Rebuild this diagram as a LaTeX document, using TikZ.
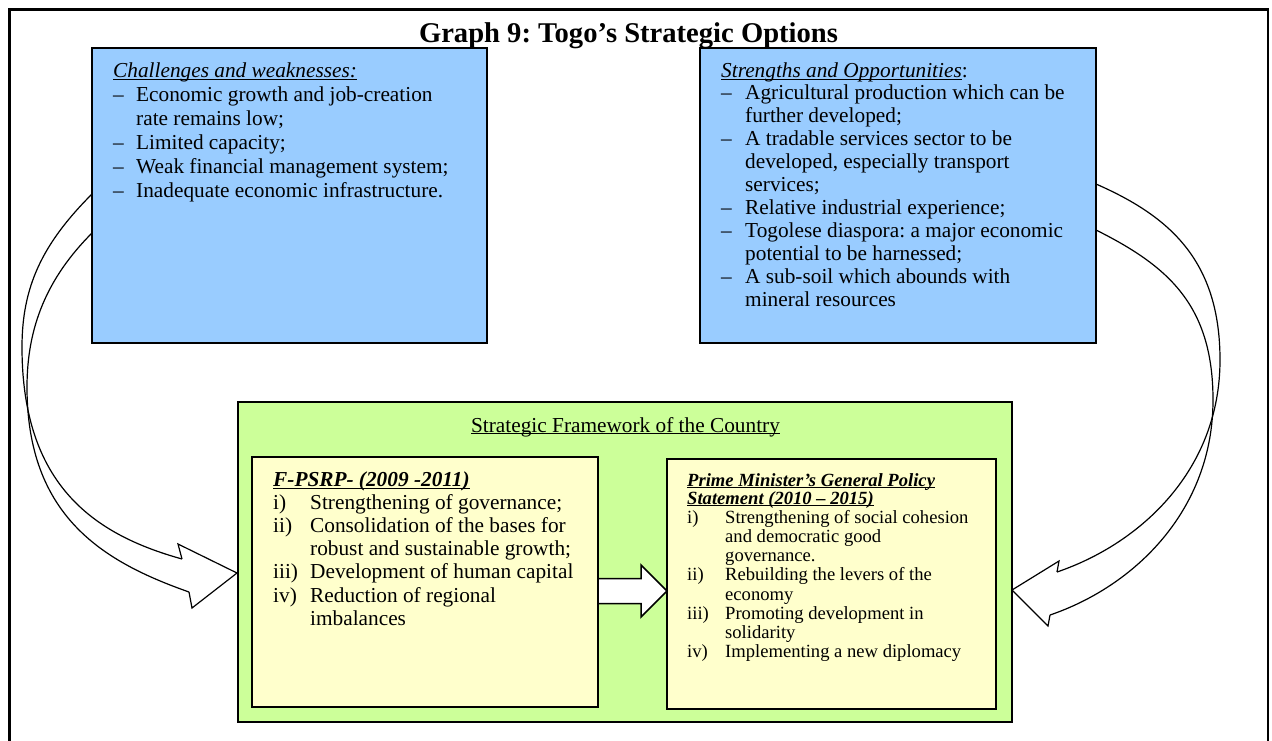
\documentclass[tikz,border=0pt]{standalone}
\usepackage{fontspec}
\setmainfont{Liberation Serif}
\usetikzlibrary{calc}
\definecolor{bluefill}{HTML}{99CCFF}
\definecolor{greenfill}{HTML}{CCFF99}
\definecolor{yellowfill}{HTML}{FFFFCC}
\newcommand\myul[2][2.6pt]{\leavevmode\setbox0\hbox{#2}\rlap{\rule[-#1]{\wd0}{1pt}}\box0}
\newcommand\bodysz{\fontsize{21.3}{24}\selectfont}
\newcommand\smallsz{\fontsize{18.6}{19}\selectfont}
\newcommand\titlesz{\fontsize{28.6}{30}\selectfont}
\frenchspacing
\begin{document}
\begin{tikzpicture}[x=1pt,y=-1pt,
  box/.style={draw, anchor=north west, inner sep=0pt, outer sep=0pt},
  bluebox/.style={box, line width=2pt, fill=bluefill},
  greenbox/.style={box, line width=2.4pt, fill=greenfill},
  yellowbox/.style={box, line width=1.2pt, fill=yellowfill},
  txt/.style={anchor=base west, inner sep=0pt, font=\bodysz},
  ctxt/.style={anchor=base, inner sep=0pt, font=\bodysz},
  stxt/.style={anchor=base west, inner sep=0pt, font=\smallsz},
  curve/.style={line width=1.2pt},
  headline/.style={line width=1.2pt, line join=miter},
  blockarrow/.style={draw, line width=1.5pt, fill=white, line join=miter}]
\useasboundingbox (0,0) rectangle (1272,740);

% outer frame
\draw[line width=2.5pt] (9.5,745) -- (9.5,9.5) -- (1268,9.5) -- (1268,745);

% curved arrows (drawn behind the boxes)
\coordinate (LA0) at (92,194);
\coordinate (LA1) at (22,347);
\coordinate (LA2) at (182,559);
\coordinate (LB0) at (92,233);
\coordinate (LB1) at (27,387);
\coordinate (LB2) at (189,592);
\coordinate (LT)  at (237,573);
\draw[curve] (LA0) .. controls (42,244) and (22,287) .. (LA1)
                   .. controls (22,487) and (96,535) .. (LA2);
\draw[curve] (LB0) .. controls (47,278) and (27,327) .. (LB1)
                   .. controls (27,517) and (104,562) .. (LB2);
\draw[headline] (LA2) -- (178,544) -- (LT) -- (192,608) -- (LB2);

\coordinate (RA0) at (1096,184);
\coordinate (RA1) at (1220,360);
\coordinate (RA2) at (1057,572);
\coordinate (RB0) at (1096,230);
\coordinate (RB1) at (1213,400);
\coordinate (RB2) at (1050,615);
\coordinate (RT)  at (1012,590);
\draw[curve] (RA0) .. controls (1169,216) and (1220,260) .. (RA1)
                   .. controls (1220,469) and (1142,543) .. (RA2);
\draw[curve] (RB0) .. controls (1168,266) and (1213,305) .. (RB1)
                   .. controls (1213,510) and (1135,586) .. (RB2);
\draw[headline] (RA2) -- (1059,561) -- (RT) -- (1048,626) -- (RB2);

% boxes
\node[bluebox, minimum width=395pt, minimum height=295pt] (lb) at (92,48) {};
\node[bluebox, minimum width=396pt, minimum height=295pt] (rb) at (700,48) {};
\node[greenbox, minimum width=774pt, minimum height=320pt] (gb) at (238,402) {};
\node[yellowbox, minimum width=346pt, minimum height=250pt] (yl) at (252,457) {};
\node[yellowbox, minimum width=329pt, minimum height=250pt] (yr) at (667,459) {};

% title
\node[anchor=base, inner sep=0pt, font=\titlesz\bfseries] (title) at (628.5,42) {Graph 9: Togo’s Strategic Options};

% left blue text
\node[txt] (l0) at (113,77) {\myul{\itshape Challenges and weaknesses:}};
\node[txt] (l1d) at (113,101) {–};
\node[txt] (l1) at (136,101) {Economic growth and job-creation};
\node[txt] (l1b) at (136,125) {rate remains low;};
\node[txt] (l2d) at (113,149) {–};
\node[txt] (l2) at (136,149) {Limited capacity;};
\node[txt] (l3d) at (113,173) {–};
\node[txt] (l3) at (136,173) {Weak financial management system;};
\node[txt] (l4d) at (113,197) {–};
\node[txt] (l4) at (136,197) {Inadequate economic infrastructure.};

% right blue text
\node[txt] (r0) at (721,77) {\myul{\itshape Strengths and Opportunities}:};
\node[txt] (r1d) at (721,99.9) {–};
\node[txt] (r1) at (745,99.9) {Agricultural production which can be};
\node[txt] (r1b) at (745,122.8) {further developed;};
\node[txt] (r2d) at (721,145.7) {–};
\node[txt] (r2) at (745,145.7) {A tradable services sector to be};
\node[txt] (r2b) at (745,168.6) {developed, especially transport};
\node[txt] (r2c) at (745,191.5) {services;};
\node[txt] (r3d) at (721,214.4) {–};
\node[txt] (r3) at (745,214.4) {Relative industrial experience;};
\node[txt] (r4d) at (721,237.3) {–};
\node[txt] (r4) at (745,237.3) {Togolese diaspora: a major economic};
\node[txt] (r4b) at (745,260.2) {potential to be harnessed;};
\node[txt] (r5d) at (721,283.1) {–};
\node[txt] (r5) at (745,283.1) {A sub-soil which abounds with};
\node[txt] (r5b) at (745,306) {mineral resources};

% green header
\node[ctxt] (gh) at (625.5,432) {\myul[2.2pt]{Strategic Framework of the Country}};

% left yellow text
\node[txt] (y0) at (273,486) {\myul[3pt]{\bfseries\itshape F-PSRP- (2009 -2011)}};
\node[txt] (y1n) at (273,509.2) {i)};
\node[txt] (y1) at (310,509.2) {Strengthening of governance;};
\node[txt] (y2n) at (273,532.4) {ii)};
\node[txt] (y2) at (310,532.4) {Consolidation of the bases for};
\node[txt] (y2b) at (310,555.6) {robust and sustainable growth;};
\node[txt] (y3n) at (273,578.8) {iii)};
\node[txt] (y3) at (310,578.8) {Development of human capital};
\node[txt] (y4n) at (273,602) {iv)};
\node[txt] (y4) at (310,602) {Reduction of regional};
\node[txt] (y4b) at (310,625.2) {imbalances};

% right yellow text
\node[stxt] (z0) at (687,486) {\myul[2.4pt]{\bfseries\itshape Prime Minister’s General Policy}};
\node[stxt] (z0b) at (687,504) {\myul[2.4pt]{\bfseries\itshape Statement (2010 – 2015)}};
\node[stxt] (z1n) at (687,523.2) {i)};
\node[stxt] (z1) at (725,523.2) {Strengthening of social cohesion};
\node[stxt] (z1b) at (725,542.4) {and democratic good};
\node[stxt] (z1c) at (725,561.6) {governance.};
\node[stxt] (z2n) at (687,580.8) {ii)};
\node[stxt] (z2) at (725,580.8) {Rebuilding the levers of the};
\node[stxt] (z2b) at (725,600) {economy};
\node[stxt] (z3n) at (687,619.2) {iii)};
\node[stxt] (z3) at (725,619.2) {Promoting development in};
\node[stxt] (z3b) at (725,638.4) {solidarity};
\node[stxt] (z4n) at (687,657.6) {iv)};
\node[stxt] (z4) at (725,657.6) {Implementing a new diplomacy};

% middle block arrow between the two yellow boxes
\coordinate (mA) at (yl.east |- 0,591);
\coordinate (mB) at (yr.west |- 0,591);
\draw[blockarrow] ($(mA)+(0,-12.5)$) -- ($(mB)+(-26,-12.5)$) -- ($(mB)+(-26,-26)$)
  -- (mB) -- ($(mB)+(-26,26)$) -- ($(mB)+(-26,12.5)$) -- ($(mA)+(0,12.5)$) -- cycle;
\end{tikzpicture}
\end{document}
